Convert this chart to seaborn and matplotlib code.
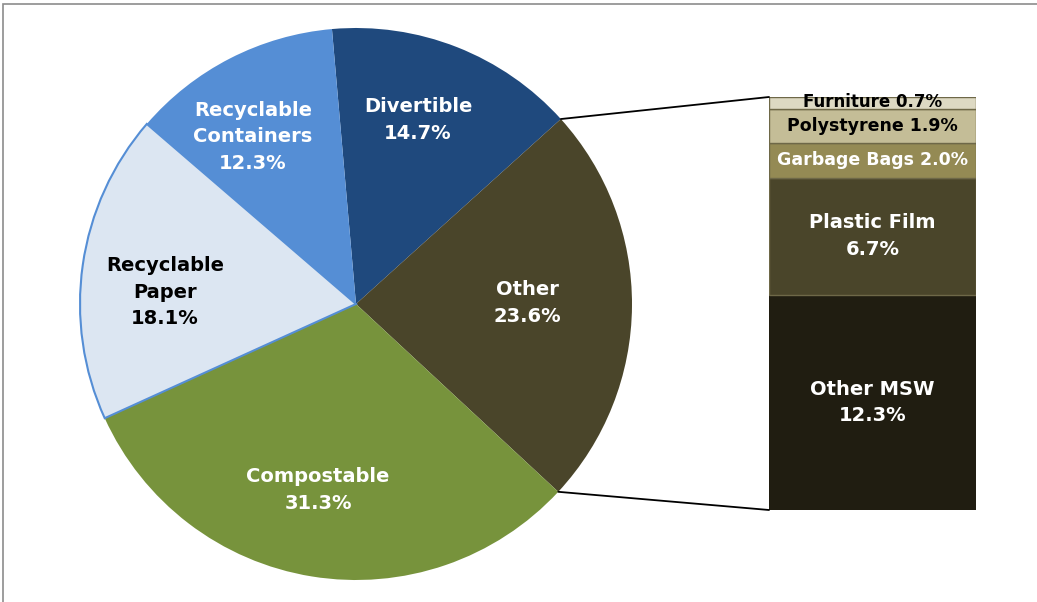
import matplotlib
matplotlib.use("Agg")
import matplotlib.pyplot as plt
from matplotlib.patches import ConnectionPatch, Rectangle
import seaborn as sns
import numpy as np

sns.set_theme(style="white")
plt.rcParams['font.family'] = ['DejaVu Sans']

# Pie data (clockwise from top)
pie_labels = ["Divertible", "Other", "Compostable", "Recyclable\nPaper", "Recyclable\nContainers"]
pie_values = [14.7, 23.6, 31.3, 18.1, 12.3]
pie_colors = ["#1F497D", "#4A452A", "#77933C", "#DCE6F2", "#558ED5"]
pie_text_colors = ["white", "white", "white", "black", "white"]

# Breakdown of "Other" (bottom to top)
bar_labels = ["Other MSW", "Plastic Film", "Garbage Bags", "Polystyrene", "Furniture"]
bar_values = [12.3, 6.7, 2.0, 1.9, 0.7]
bar_colors = ["#201D11", "#4A452A", "#948A54", "#C4BD97", "#DDD9C3"]
bar_text_colors = ["white", "white", "white", "black", "black"]

W, H = 1037, 602
fig = plt.figure(figsize=(W / 100, H / 100), dpi=100)
fig.patch.set_facecolor("white")

# outer frame
fig.add_artist(Rectangle((3 / W, -0.1), 1.2, (602 - 4) / H + 0.1, transform=fig.transFigure,
                         fill=False, edgecolor="#8C8C8C", linewidth=1.2))

# Pie axes
cx, cy, r = 356, 304, 276
ax1 = fig.add_axes([(cx - r) / W, (H - cy - r) / H, 2 * r / W, 2 * r / H])
wedges, _ = ax1.pie(pie_values, colors=pie_colors, startangle=95, counterclock=False,
                    radius=1.0, wedgeprops=dict(linewidth=0))
wedges[3].set_edgecolor("#558ED5")
wedges[3].set_linewidth(1.5)
ax1.set_xlim(-1, 1)
ax1.set_ylim(-1, 1)
ax1.set_aspect("equal")
ax1.axis("off")

label_pos = [(418, 120), (527, 303), (318, 490), (165, 292), (253, 137)]
for (px, py), lab, val, tc in zip(label_pos, pie_labels, pie_values, pie_text_colors):
    x = (px - cx) / r
    y = (cy - py) / r
    ax1.text(x, y, f"{lab}\n{val:.1f}%", ha="center", va="center", color=tc,
             fontsize=14, fontweight="bold", linespacing=1.5)

# Bar axes
bx0, bx1, by_bottom, by_top = 769, 976, 510, 97
ax2 = fig.add_axes([bx0 / W, (H - by_bottom) / H, (bx1 - bx0) / W, (by_bottom - by_top) / H])
bottom = 0
edge_cols = ["#201D11", "#6E6848", "#6E6848", "#6E6848", "#6E6848"]
for lab, val, col, tc, ec in zip(bar_labels, bar_values, bar_colors, bar_text_colors, edge_cols):
    ax2.bar(0, val, bottom=bottom, width=1.0, color=col, edgecolor=ec, linewidth=1.0)
    mid = bottom + val / 2
    if val > 5:
        ax2.text(0, mid, f"{lab}\n{val:.1f}%", ha="center", va="center", color=tc,
                 fontsize=14, fontweight="bold", linespacing=1.5)
    elif val > 1:
        ax2.text(0, mid, f"{lab} {val:.1f}%", ha="center", va="center", color=tc,
                 fontsize=12.5, fontweight="bold")
    else:
        ax2.text(0, mid + 0.05, f"{lab} {val:.1f}%", ha="center", va="center", color=tc,
                 fontsize=12, fontweight="bold")
    bottom += val
ax2.set_xlim(-0.5, 0.5)
ax2.set_ylim(0, sum(bar_values))
ax2.axis("off")

# connector lines
w_other = wedges[1]
t1, t2 = np.deg2rad(w_other.theta1), np.deg2rad(w_other.theta2)
for theta, ybar in [(t2, sum(bar_values)), (t1, 0)]:
    con = ConnectionPatch(xyA=(np.cos(theta), np.sin(theta)), coordsA=ax1.transData,
                          xyB=(-0.5, ybar), coordsB=ax2.transData,
                          color="black", linewidth=1.3)
    fig.add_artist(con)

fig.savefig("out.png", dpi=100, facecolor="white")
